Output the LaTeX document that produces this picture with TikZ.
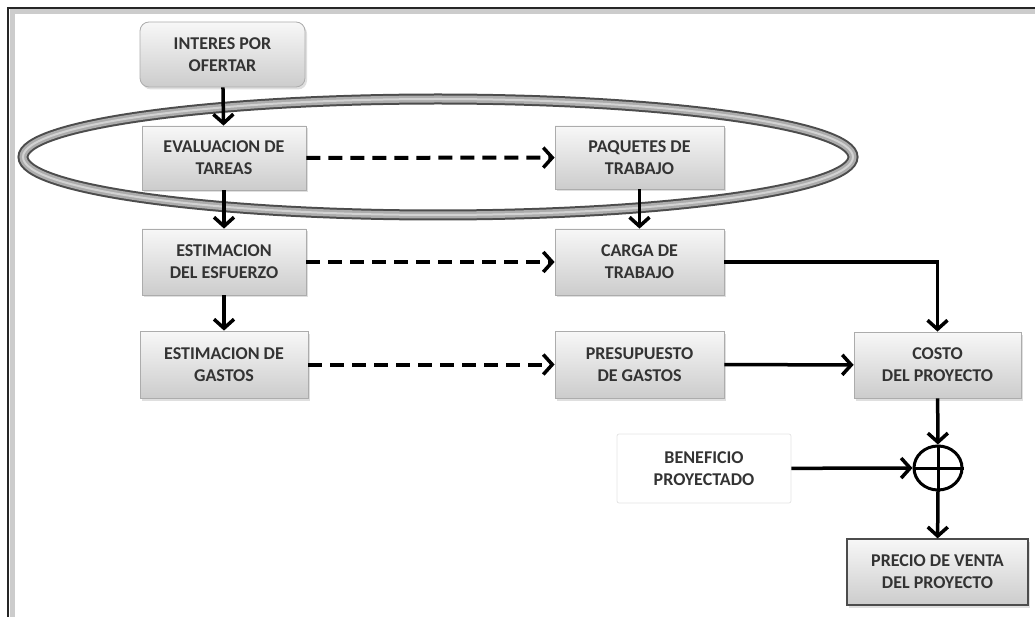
\documentclass[tikz,border=0pt]{standalone}
\usepackage{fontspec}
\setmainfont{Carlito}
\usetikzlibrary{arrows.meta,shadows,positioning,shapes.geometric}
\begin{document}
\begin{tikzpicture}[x=1pt,y=-1pt,
  txt/.style={align=center, font=\bfseries\fontsize{18}{22}\selectfont, text=black!80},
  box/.style={txt, draw=gray!65, line width=0.8pt, top color=gray!6, bottom color=gray!40,
    inner sep=1pt,
    drop shadow={opacity=0.25, shadow xshift=2pt, shadow yshift=-2.5pt}},
  darkbox/.style={box, draw=black!70, line width=1.2pt},
  arr/.style={line width=3.5pt, -{Straight Barb[length=9pt,width=20pt,line width=3.5pt]}},
  darr/.style={arr, dash pattern=on 14pt off 8pt, line width=4pt},
]
\useasboundingbox (0,0) rectangle (1035,617);
% frame
\draw[gray!40, line width=5pt] (12,617) -- (12,12) -- (1035,12);
\draw[black!85, line width=2pt] (8,617) -- (8,8) -- (1035,8);
% ring
\draw[black!70, line width=11pt] (438,157) ellipse [x radius=415, y radius=58];
\draw[gray!65, line width=7pt] (438,157) ellipse [x radius=415, y radius=58];
\draw[gray!35, line width=2pt] (438,157) ellipse [x radius=415, y radius=58];
% nodes
\node[box, rounded corners=9pt, minimum width=165pt, minimum height=65pt] (int) at (222.5,54.5) {INTERES POR\\OFERTAR};
\node[box, minimum width=164pt, minimum height=64pt] (eval) at (224,158) {EVALUACION DE\\TAREAS};
\node[box, minimum width=169pt, minimum height=63pt] (paq) at (639.5,157.5) {PAQUETES DE\\TRABAJO};
\node[box, minimum width=164pt, minimum height=66pt] (esf) at (224,262) {ESTIMACION\\DEL ESFUERZO};
\node[box, minimum width=169pt, minimum height=66pt] (carga) at (639.5,262) {CARGA DE\\TRABAJO};
\node[box, minimum width=168pt, minimum height=67pt] (gas) at (224,364.5) {ESTIMACION DE\\GASTOS};
\node[box, minimum width=169pt, minimum height=67pt] (pres) at (639.5,364.5) {PRESUPUESTO\\DE GASTOS};
\node[box, minimum width=167pt, minimum height=66pt] (costo) at (937.5,365) {COSTO\\DEL PROYECTO};
\node[txt, draw=gray!20, line width=0.8pt, fill=white, rounded corners=2pt,
  minimum width=174pt, minimum height=69pt] (ben) at (704,468.5) {BENEFICIO\\PROYECTADO};
\node[draw=black, line width=3pt, ellipse, minimum width=48pt, minimum height=44pt, inner sep=0pt] (plus) at (938,468) {};
\draw[line width=3pt] (plus.north) -- (plus.south) (plus.west) -- (plus.east);
\node[darkbox, minimum width=181pt, minimum height=66pt] (precio) at (937.5,572) {PRECIO DE VENTA\\DEL PROYECTO};
% connectors
\draw[arr] (int) -- (eval);
\draw[arr] (eval) -- (esf);
\draw[arr] (esf) -- (gas);
\draw[arr] (paq) -- (carga);
\draw[darr] (eval) -- (paq);
\draw[darr] (esf) -- (carga);
\draw[darr] (gas) -- (pres);
\draw[arr] (carga.east) -| (costo.north);
\draw[arr] (pres) -- (costo);
\draw[arr] (costo) -- (plus);
\draw[arr] (ben) -- (plus);
\draw[arr] (plus) -- (precio);
\end{tikzpicture}
\end{document}
